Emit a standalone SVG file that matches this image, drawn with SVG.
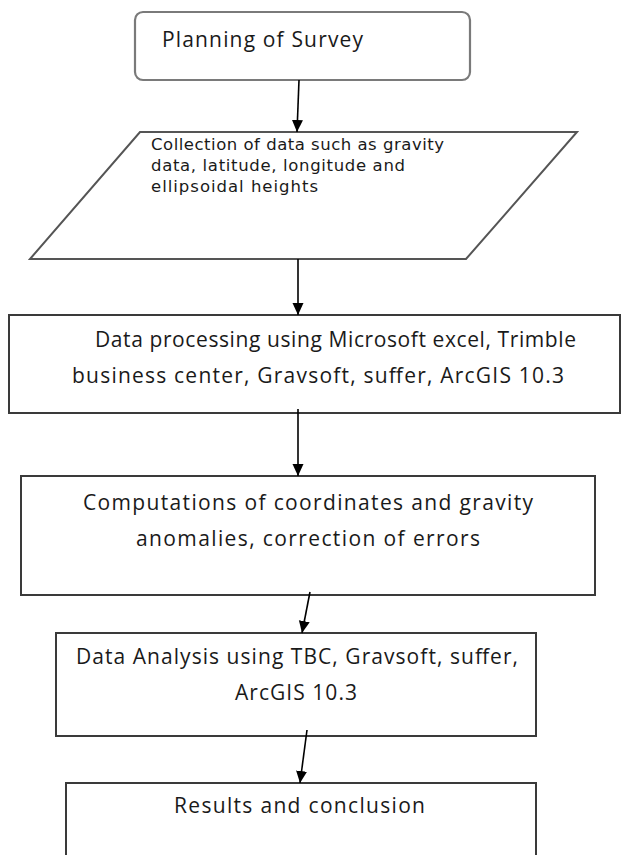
<svg xmlns="http://www.w3.org/2000/svg" width="623" height="855" viewBox="0 0 623 855">
<style>
  .t { font-family: "Open Sans", "Liberation Sans", Arial, sans-serif; font-size: 21px; fill: #1a1a1a; }
  .s { font-family: "DejaVu Sans", "Liberation Sans", Arial, sans-serif; font-size: 16.5px; fill: #1a1a1a; }
  .box { fill: #ffffff; stroke: #3a3a3a; stroke-width: 2; }
  .edge { stroke: #000000; stroke-width: 1.6; fill: none; marker-end: url(#ah); }
</style>
<defs>
  <marker id="ah" markerUnits="userSpaceOnUse" markerWidth="12" markerHeight="12" viewBox="0 0 12 12" refX="12" refY="6" orient="auto">
    <path d="M0,0.5 L12,6 L0,11.5 Z" fill="#000000"/>
  </marker>
</defs>
<rect width="623" height="855" fill="#ffffff"/>
<g id="n1">
  <rect x="135" y="12" width="335" height="68" rx="8" fill="#ffffff" stroke="#7a7a7a" stroke-width="2.2"/>
  <text class="t" x="162" y="47" textLength="201" lengthAdjust="spacing">Planning of Survey</text>
</g>
<g id="n2">
  <polygon points="140,132 577,132 466,259 30,259" fill="#ffffff" stroke="#555555" stroke-width="2"/>
  <text class="s" x="151" y="150" textLength="293" lengthAdjust="spacing">Collection of data such as gravity</text>
  <text class="s" x="151" y="171" textLength="254" lengthAdjust="spacing">data, latitude, longitude and</text>
  <text class="s" x="151" y="192" textLength="167" lengthAdjust="spacing">ellipsoidal heights</text>
</g>
<g id="n3">
  <rect class="box" x="9" y="315" width="611" height="98"/>
  <text class="t" x="95" y="347" textLength="481" lengthAdjust="spacing">Data processing using Microsoft excel, Trimble</text>
  <text class="t" x="72" y="383" textLength="492" lengthAdjust="spacing">business center, Gravsoft, suffer, ArcGIS 10.3</text>
</g>
<g id="n4">
  <rect class="box" x="21" y="476" width="574" height="119"/>
  <text class="t" x="83" y="510" textLength="450" lengthAdjust="spacing">Computations of coordinates and gravity</text>
  <text class="t" x="136" y="546" textLength="344" lengthAdjust="spacing">anomalies, correction of errors</text>
</g>
<g id="n5">
  <rect class="box" x="56" y="633" width="480" height="103"/>
  <text class="t" x="76" y="664" textLength="442" lengthAdjust="spacing">Data Analysis using TBC, Gravsoft, suffer,</text>
  <text class="t" x="235" y="700" textLength="122" lengthAdjust="spacing">ArcGIS 10.3</text>
</g>
<g id="n6">
  <rect class="box" x="66" y="783" width="470" height="90"/>
  <text class="t" x="174" y="813" textLength="251" lengthAdjust="spacing">Results and conclusion</text>
</g>
<g id="edges">
  <line class="edge" x1="299" y1="80" x2="297" y2="132"/>
  <line class="edge" x1="298" y1="259" x2="298" y2="315"/>
  <line class="edge" x1="298" y1="409" x2="298" y2="476"/>
  <line class="edge" x1="310" y1="592" x2="302" y2="633"/>
  <line class="edge" x1="307" y1="730" x2="300" y2="783"/>
</g>
</svg>
